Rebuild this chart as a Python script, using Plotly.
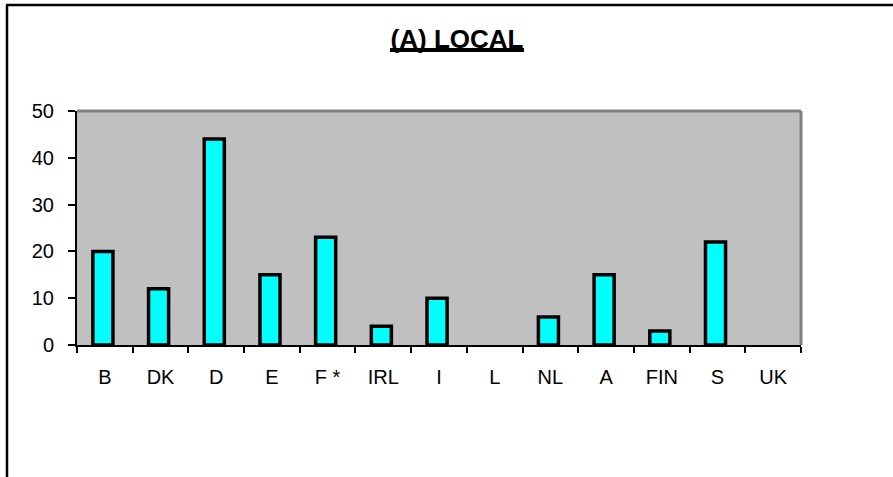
import plotly.graph_objects as go

# Country categories and their counts
countries = ["B", "DK", "D", "E", "F *", "IRL", "I", "L", "NL", "A", "FIN", "S", "UK"]
counts = [20, 12, 44, 15, 23, 4, 10, 0, 6, 15, 3, 22, 0]
y_ticks = [0, 10, 20, 30, 40, 50]

FONT = "Liberation Sans, Arial, sans-serif"

W, H = 893, 477
ML, MR, MT, MB = 77, 92, 111, 132
PW, PH = W - ML - MR, H - MT - MB


def px_x(x):
    return (x - ML) / PW


def px_y(y):
    return (H - MB - y) / PH


# Empty categories get no outline so nothing is drawn for them
outline_widths = [3.5 if v > 0 else 0 for v in counts]

BAR_W = 0.36

fig = go.Figure(
    go.Bar(
        x=countries,
        y=counts,
        width=BAR_W,
        offset=-BAR_W / 2 - 0.035,
        marker=dict(color="#00FFFF", line=dict(color="black", width=outline_widths)),
        hoverinfo="x+y",
    )
)

fig.update_layout(
    width=W,
    height=H,
    margin=dict(l=ML, r=MR, t=MT, b=MB),
    paper_bgcolor="white",
    plot_bgcolor="#C0C0C0",
    showlegend=False,
    font=dict(family=FONT, size=20, color="black"),
    title=dict(
        text="<b>(A) LOCAL</b>",
        x=457 / W,
        xanchor="center",
        y=1 - 39 / H,
        yanchor="middle",
        font=dict(family=FONT, size=26, color="black"),
    ),
)

fig.update_xaxes(
    type="category",
    showline=True,
    linecolor="black",
    linewidth=2,
    showgrid=False,
    ticks="outside",
    tickson="boundaries",
    ticklen=6,
    tickwidth=2,
    tickcolor="black",
    zeroline=False,
    ticklabelstandoff=13,
    tickfont=dict(family=FONT, size=20),
)

fig.update_yaxes(
    range=[0, 50],
    tickvals=y_ticks,
    showline=True,
    linecolor="black",
    linewidth=2,
    showgrid=False,
    zeroline=False,
    ticks="outside",
    ticklen=7,
    tickwidth=2,
    tickcolor="black",
    ticklabelstandoff=10,
    tickfont=dict(family=FONT, size=20),
)

# Darker rim along the top and right of the plot wall
fig.add_shape(type="line", xref="paper", yref="paper", x0=0, x1=1, y0=1, y1=1,
              line=dict(color="#808080", width=3), layer="below")
fig.add_shape(type="line", xref="paper", yref="paper", x0=1, x1=1, y0=0, y1=1,
              line=dict(color="#808080", width=3), layer="below")

# Title underline
fig.add_shape(type="line", xref="paper", yref="paper",
              x0=px_x(390), x1=px_x(524), y0=px_y(50), y1=px_y(50),
              line=dict(color="black", width=4))

# Chart frame: top and left border lines
fig.add_shape(type="line", xref="paper", yref="paper",
              x0=px_x(6), x1=px_x(900), y0=px_y(5), y1=px_y(5),
              line=dict(color="black", width=2.5))
fig.add_shape(type="line", xref="paper", yref="paper",
              x0=px_x(7), x1=px_x(7), y0=px_y(480), y1=px_y(5),
              line=dict(color="black", width=2.5))

fig.write_html("out.html")
